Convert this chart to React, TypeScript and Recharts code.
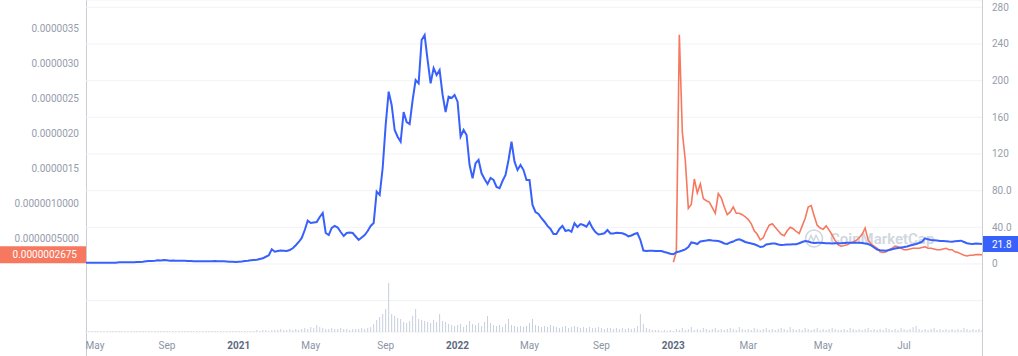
import { ComposedChart, Line, Bar, XAxis, YAxis, CartesianGrid, ReferenceLine } from "recharts";

// price (right axis), one value per slot
const blueValues = [
  1.4, 1.4, 1.4, 1.4, 1.4, 1.4, 1.4, 1.4, 1.4, 1.4,
  1.4, 1.9, 1.9, 1.9, 1.9, 1.9, 1.9, 2.2, 2.3, 2.5,
  2.9, 3.3, 3.3, 3.6, 4.0, 3.8, 4.4, 4.0, 3.6, 3.8,
  3.6, 3.6, 3.5, 3.6, 3.3, 3.3, 3.1, 2.9, 2.9, 2.9,
  2.9, 3.1, 2.9, 3.3, 2.9, 3.1, 2.9, 2.7, 2.5, 2.4,
  2.2, 2.5, 2.7, 3.3, 3.6, 4.0, 4.4, 4.7, 5.5, 6.2,
  7.9, 9.5, 16.0, 13.4, 14.2, 14.7, 14.5, 14.2, 15.3, 17.1,
  20.4, 24.0, 28.4, 37.1, 47.2, 44.7, 45.3, 45.8, 51.3, 55.6,
  33.8, 31.6, 39.3, 41.5, 39.8, 34.9, 30.5, 33.8, 34.4, 33.8,
  30.0, 26.2, 28.9, 31.6, 36.0, 41.5, 44.7, 78.9, 75.3, 104.7,
  151.6, 188.0, 173.5, 146.2, 138.9, 133.4, 165.8, 154.9, 152.7, 178.9,
  200.7, 197.1, 244.4, 249.8, 222.5, 197.1, 213.8, 206.2, 211.6, 184.4,
  165.8, 182.5, 181.1, 184.4, 177.1, 138.9, 146.2, 140.7, 108.0, 93.5,
  109.9, 113.5, 98.9, 92.7, 87.3, 93.8, 91.6, 84.0, 82.6, 90.5,
  97.1, 113.5, 133.4, 111.6, 102.5, 108.0, 102.5, 91.6, 91.6, 64.4,
  56.7, 54.5, 49.9, 46.1, 41.5, 38.2, 32.7, 32.7, 38.2, 41.5,
  36.0, 37.1, 35.2, 44.4, 40.4, 43.6, 42.5, 40.7, 45.8, 39.3,
  34.9, 32.2, 32.7, 33.5, 37.1, 33.3, 33.3, 34.1, 33.8, 33.5,
  32.2, 30.2, 31.1, 32.7, 33.8, 26.2, 14.7, 14.2, 14.5, 14.5,
  14.2, 14.2, 14.2, 13.1, 12.3, 11.2, 10.6, 12.8, 13.6, 14.7,
  16.0, 18.5, 23.5, 22.9, 21.8, 24.5, 25.1, 25.6, 26.2, 25.6,
  25.4, 25.1, 24.0, 22.4, 21.8, 23.5, 24.5, 26.2, 26.9, 25.6,
  24.0, 23.1, 22.4, 21.5, 20.2, 18.5, 19.1, 21.3, 21.8, 22.4,
  22.4, 21.3, 20.7, 20.9, 21.3, 21.3, 21.5, 21.5, 22.6, 24.0,
  25.1, 24.5, 23.5, 22.9, 23.2, 23.2, 22.9, 22.6, 22.6, 22.4,
  22.6, 22.6, 22.6, 22.9, 23.1, 23.2, 23.2, 23.2, 23.2, 22.9,
  22.4, 21.8, 20.2, 18.0, 15.8, 14.9, 14.7, 14.5, 15.3, 16.1,
  16.9, 17.5, 18.0, 18.5, 19.1, 20.2, 20.9, 21.8, 22.9, 24.3,
  28.0, 26.9, 26.2, 25.9, 25.6, 25.1, 25.1, 24.8, 24.5, 24.3,
  24.8, 25.1, 25.4, 24.0, 22.6, 22.0, 21.8, 22.4, 22.2, 21.8,
];

// second price (left axis), in millionths, starts at slot 196
const orangeStartSlot = 196;
const orangeValues = [
  0.16, 0.31, 3.41, 2.02,
  1.61, 0.93, 0.99, 1.35, 1.15, 1.28, 1.07, 1.04, 1.02, 0.94,
  0.86, 1.14, 1.08, 0.95, 0.84, 0.88, 0.95, 0.86, 0.86, 0.84,
  0.81, 0.77, 0.71, 0.61, 0.56, 0.48, 0.51, 0.61, 0.69, 0.71,
  0.66, 0.61, 0.56, 0.54, 0.61, 0.66, 0.64, 0.60, 0.57, 0.68,
  0.79, 0.95, 0.97, 0.82, 0.69, 0.65, 0.63, 0.68, 0.62, 0.55,
  0.47, 0.41, 0.39, 0.40, 0.41, 0.43, 0.45, 0.47, 0.51, 0.56,
  0.65, 0.48, 0.42, 0.39, 0.36, 0.31, 0.30, 0.31, 0.34, 0.36,
  0.39, 0.38, 0.36, 0.34, 0.34, 0.35, 0.36, 0.36, 0.36, 0.37,
  0.38, 0.36, 0.36, 0.35, 0.34, 0.34, 0.35, 0.36, 0.34, 0.34,
  0.31, 0.30, 0.28, 0.26, 0.25, 0.26, 0.26, 0.27, 0.27, 0.2675,
];

// volume, relative units
const volumeValues = [
  1, 1, 1, 1, 1, 1, 1, 1, 1, 1,
  1, 1, 1, 1, 1, 1, 1, 1, 1, 1,
  1, 1, 1, 1, 1, 1, 1, 1, 1, 1,
  1, 1, 1, 1, 1, 1, 1, 1, 1, 1,
  1, 1, 1, 1, 1, 1, 1, 1, 1, 1,
  1, 1, 1, 1, 1, 1, 1, 2, 1, 2,
  2, 1, 2, 2, 2, 3, 2, 2, 3, 2,
  3, 2, 3, 4, 3, 5, 4, 7, 5, 4,
  3, 3, 4, 3, 3, 4, 3, 3, 2, 3,
  3, 3, 4, 3, 4, 5, 8, 12, 15, 18,
  23, 49, 18, 16, 14, 13, 10, 9, 11, 16,
  23, 13, 12, 11, 10, 9, 12, 10, 18, 11,
  10, 8, 7, 6, 7, 8, 5, 7, 11, 8,
  7, 9, 6, 10, 16, 9, 7, 6, 7, 5,
  8, 13, 7, 6, 5, 6, 5, 6, 9, 13,
  7, 6, 5, 6, 5, 7, 6, 5, 4, 5,
  6, 4, 5, 6, 5, 4, 5, 4, 5, 4,
  4, 5, 4, 3, 4, 4, 3, 4, 3, 4,
  3, 4, 3, 4, 6, 18, 8, 4, 3, 2,
  2, 2, 1, 2, 1, 2, 1, 3, 2, 4,
  2, 3, 5, 2, 3, 2, 4, 3, 2, 3,
  4, 2, 3, 2, 3, 4, 3, 2, 5, 3,
  2, 3, 2, 4, 3, 2, 3, 4, 2, 3,
  2, 3, 4, 3, 2, 5, 3, 2, 3, 2,
  4, 3, 2, 3, 4, 2, 3, 2, 3, 4,
  3, 2, 2, 3, 2, 4, 3, 2, 3, 2,
  3, 4, 2, 3, 2, 3, 2, 4, 3, 2,
  3, 2, 4, 3, 2, 3, 5, 6, 3, 2,
  3, 2, 3, 4, 2, 3, 2, 3, 2, 3,
  2, 3, 2, 4, 3, 2, 3, 2, 3, 2,
];

const xTickSlots = [3, 27, 51, 75, 100, 124, 148, 172, 196, 221, 246, 273];
const xTickLabels = ["May", "Sep", "2021", "May", "Sep", "2022", "May", "Sep", "2023", "Mar", "May", "Jul"];

const rightTicks = [-40, 0, 40, 80, 120, 160, 200, 240, 280];
const rightTickLabels = ["", "0", "40.0", "80.0", "120", "160", "200", "240", "280"];

const leftTicks = [0.5, 1, 1.5, 2, 2.5, 3, 3.5];
const leftTickLabels = ["0.0000005000", "0.0000010000", "0.0000015", "0.0000020", "0.0000025", "0.0000030", "0.0000035"];

const leftLastLabel = "0.0000002675";
const rightLastLabel = "21.8";

const BLUE = "#3861fb";
const ORANGE = "#f6785e";
const FONT = "Roboto, sans-serif";

const rows = blueValues.map((v, i) => ({
  i,
  blue: v,
  orange: i >= orangeStartSlot ? orangeValues[i - orangeStartSlot] : null,
  vol: volumeValues[i],
}));

function XTick({ x, y, payload }: any) {
  const label = xTickLabels[xTickSlots.indexOf(payload.value)] ?? "";
  const isYear = /^\d{4}$/.test(label);
  return (
    <text x={x} y={y} dy="0.71em" textAnchor="middle" fontSize={10} fontFamily={FONT}
      fontWeight={isYear ? 700 : 400} fill={isYear ? "#5d6a80" : "#8a93a5"}>
      {label}
    </text>
  );
}

function RightTick({ x, y, payload }: any) {
  const label = rightTickLabels[rightTicks.indexOf(payload.value)] ?? "";
  return (
    <text x={x} y={y} dy="0.35em" textAnchor="start" fontSize={10} fontFamily={FONT} fill="#969dab">
      {label}
    </text>
  );
}

function LeftTick({ x, y, payload }: any) {
  const label = leftTickLabels[leftTicks.indexOf(payload.value)] ?? "";
  return (
    <text x={x} y={y} dy="0.35em" textAnchor="end" fontSize={10} fontFamily={FONT} fill="#969dab">
      {label}
    </text>
  );
}

function LeftTag({ viewBox }: any) {
  const { x, y } = viewBox;
  return (
    <g>
      <rect x={0} y={y - 8.5} width={x} height={17} fill={ORANGE} />
      <text x={x - 9} y={y} dy="0.35em" textAnchor="end" fontSize={10} fontFamily={FONT} fill="#fff">
        {leftLastLabel}
      </text>
    </g>
  );
}

function RightTag({ viewBox }: any) {
  const { x, y, width } = viewBox;
  const left = x + width + 1;
  return (
    <g>
      <rect x={left} y={y - 8} width={40} height={16} fill={BLUE} />
      <text x={left + 9} y={y} dy="0.35em" textAnchor="start" fontSize={10} fontFamily={FONT} fill="#fff">
        {rightLastLabel}
      </text>
    </g>
  );
}

export default function App() {
  return (
    <div style={{ position: "relative", width: 1018, height: 356, background: "#fff", overflow: "hidden" }}>
      <style>{"body{margin:0}"}</style>
      <div style={{ position: "absolute", left: 804, top: 228, opacity: 0.85 }}>
        <svg width={140} height={22}>
          <circle cx={10} cy={10.5} r={8.5} fill="none" stroke="#c9cfda" strokeWidth={1.6} />
          <path d="M4.5 13 L7 7.5 L9.5 13 L12 7.5 L15 13" fill="none" stroke="#c9cfda" strokeWidth={1.5} />
          <text x={26} y={16} fontSize={15} fontWeight={600} fontFamily={FONT} fill="#c9cfda">CoinMarketCap</text>
        </svg>
      </div>
      <div style={{ position: "absolute", left: 86, top: 0, width: 1, height: 356, background: "#c9cdd4" }} />
      <div style={{ position: "absolute", left: 982, top: 0, width: 1, height: 356, background: "#c9cdd4" }} />
      <ComposedChart width={1018} height={356} data={rows} margin={{ top: 0, right: 0, bottom: 0, left: 0 }}
        style={{ position: "relative" }}>
        <CartesianGrid yAxisId="right" vertical={false} stroke="#f0f2f5" />
        <XAxis dataKey="i" type="number" domain={[0, 299]} ticks={xTickSlots} height={24}
          axisLine={false} tickLine={false} tickSize={0} tickMargin={10} tick={<XTick />} interval={0} />
        <YAxis yAxisId="left" orientation="left" width={86} type="number" domain={[-0.836, 3.907]}
          allowDataOverflow ticks={leftTicks} axisLine={false} tickLine={false} tickSize={0} tickMargin={7}
          tick={<LeftTick />} interval={0} />
        <YAxis yAxisId="right" orientation="right" width={36} type="number" domain={[-74.2, 288]}
          allowDataOverflow ticks={rightTicks} axisLine={false} tickLine={false} tickSize={0} tickMargin={10}
          tick={<RightTick />} interval={0} />
        <YAxis yAxisId="vol" hide type="number" domain={[0, 332]} allowDataOverflow />
        <Bar yAxisId="vol" dataKey="vol" fill="#c8cfdc" barSize={1} isAnimationActive={false} />
        <Line yAxisId="left" dataKey="orange" type="linear" stroke={ORANGE} strokeWidth={1.6} dot={false}
          isAnimationActive={false} />
        <Line yAxisId="right" dataKey="blue" type="linear" stroke={BLUE} strokeWidth={2} dot={false}
          isAnimationActive={false} />
        <ReferenceLine yAxisId="left" y={orangeValues[orangeValues.length - 1]} stroke="none" label={<LeftTag />} />
        <ReferenceLine yAxisId="right" y={blueValues[blueValues.length - 1]} stroke="none" label={<RightTag />} />
      </ComposedChart>
    </div>
  );
}
